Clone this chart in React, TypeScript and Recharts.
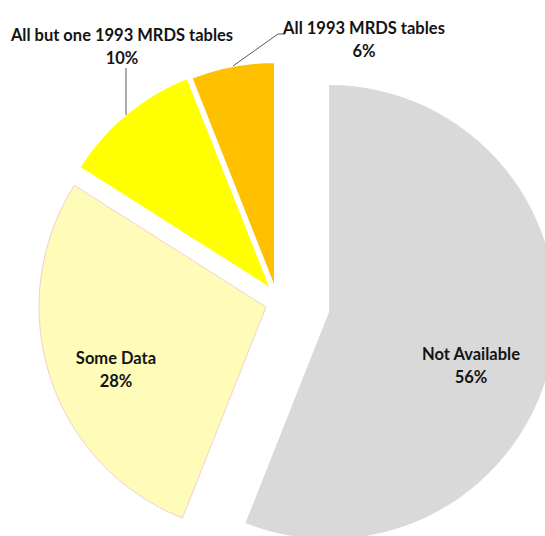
import React from 'react'
import { PieChart, Pie, Cell } from 'recharts'

const categories = ['Not Available', 'Some Data', 'All but one 1993 MRDS tables', 'All 1993 MRDS tables']
const shares = [56, 28, 10, 6]
const colors = ['#D9D9D9', '#FFFBB8', '#FFFF00', '#FFC000']

const data = categories.map((name, i) => ({ name, value: shares[i] }))

// each slice is pulled out on its own, so every slice gets its own pie centre
const centres = [
  { cx: 329, cy: 312 },
  { cx: 266, cy: 307 },
  { cx: 271, cy: 289 },
  { cx: 275, cy: 289 },
]
const strokes = [
  { stroke: 'none', width: 0 },
  { stroke: '#f3cfcf', width: 1 },
  { stroke: '#ffffff', width: 2 },
  { stroke: '#ffffff', width: 2 },
]

// label spots (centre of first line) and leader lines
const labelPos = [
  { x: 471, y: 354, line: null },
  { x: 116, y: 358, line: null },
  { x: 122, y: 35, line: '126,68 126,115' },
  { x: 364, y: 28, line: '233,66 278,34 285,34' },
]

const textStyle = { fontFamily: 'Lato, "Liberation Sans", sans-serif', fontSize: 16.5, fontWeight: 700, fill: '#141414' }

const makeLabel = (own: number) => (props: any) => {
  if (props.index !== own) return null
  const p = labelPos[own]
  return (
    <g>
      {p.line && <polyline points={p.line} fill="none" stroke="#595959" strokeWidth={1} />}
      <text x={p.x} y={p.y} textAnchor="middle" dominantBaseline="central" style={textStyle}>
        {props.name}
      </text>
      <text x={p.x} y={p.y + 23} textAnchor="middle" dominantBaseline="central" style={textStyle}>
        {`${Math.round(props.percent * 100)}%`}
      </text>
    </g>
  )
}

export default function App() {
  return (
    <div style={{ position: 'absolute', left: 0, top: 0, width: 545, height: 536, overflow: 'hidden', background: '#fff' }}>
      <PieChart width={545} height={536} margin={{ top: 0, right: 0, bottom: 0, left: 0 }}>
        {centres.map((c, k) => (
          <Pie
            key={k}
            data={data}
            dataKey="value"
            nameKey="name"
            cx={c.cx}
            cy={c.cy}
            outerRadius={227}
            startAngle={90}
            endAngle={-270}
            isAnimationActive={false}
            label={makeLabel(k)}
            labelLine={false}
          >
            {data.map((_, i) => (
              <Cell
                key={i}
                fill={i === k ? colors[i] : 'transparent'}
                stroke={i === k ? strokes[i].stroke : 'none'}
                strokeWidth={i === k ? strokes[i].width : 0}
              />
            ))}
          </Pie>
        ))}
      </PieChart>
    </div>
  )
}
